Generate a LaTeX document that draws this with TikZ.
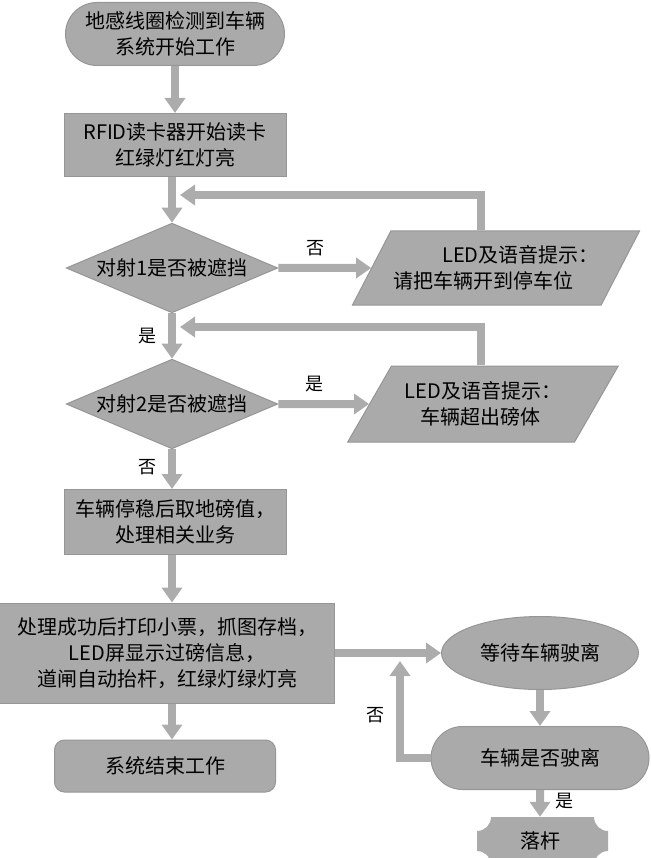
\documentclass[tikz,border=0pt]{standalone}
\usepackage{fontspec}
\setmainfont{Noto Sans CJK SC}
\usetikzlibrary{shapes.geometric,shapes.misc,arrows.meta}
\definecolor{boxgray}{RGB}{170,170,170}
\definecolor{edgegray}{RGB}{150,150,150}
\definecolor{linegray}{RGB}{172,172,172}
\tikzset{
  box/.style={draw=edgegray,fill=boxgray,line width=1pt,align=center,inner sep=0pt,
    font=\fontsize{20}{26}\selectfont},
  ask/.style={box,diamond,aspect=2.36,inner xsep=6pt,inner ysep=1pt},
  lbl/.style={font=\fontsize{18}{18}\selectfont},
  flow/.style={draw=linegray,line width=8pt,-{Triangle[width=20pt,length=15pt]}},
}
\begin{document}
\begin{tikzpicture}[x=1pt,y=-1pt]
  \useasboundingbox (0,0) rectangle (650,858);
  \node[box,rounded rectangle,minimum width=219pt,minimum height=63pt] (start) at (175,34)
    {地感线圈检测到车辆\\系统开始工作};
  \node[box,rectangle,minimum width=222pt,minimum height=63pt] (rfid) at (175,145)
    {RFID读卡器开始读卡\\红绿灯红灯亮};
  \node[ask] (d1) at (172,268) {对射1是否被遮挡};
  \node[box,trapezium,trapezium left angle=50,trapezium right angle=130,trapezium stretches=true,
    minimum width=288pt,minimum height=74pt,align=left] (p1) at (496,268)
    {\hspace*{49pt}LED及语音提示：\\请把车辆开到停车位};
  \node[ask] (d2) at (172,404) {对射2是否被遮挡};
  \node[box,trapezium,trapezium left angle=50,trapezium right angle=130,trapezium stretches=true,
    minimum width=271pt,minimum height=76pt,align=left] (p2) at (483,404)
    {LED及语音提示：\\\hspace*{16pt}车辆超出磅体};
  \node[box,rectangle,minimum width=222pt,minimum height=65pt] (b3) at (175,522)
    {车辆停稳后取地磅值，\\处理相关业务};
  \node[box,rectangle,minimum width=335pt,minimum height=100pt] (b4) at (167,653)
    {处理成功后打印小票，抓图存档，\\LED屏显示过磅信息，\\道闸自动抬杆，红绿灯绿灯亮};
  \node[box,ellipse,minimum width=197pt,minimum height=73pt] (wt) at (540,653) {等待车辆驶离};
  \node[box,rounded rectangle,minimum width=218pt,minimum height=63pt] (q) at (540,758) {车辆是否驶离};
  \node[box,rectangle,rounded corners=10pt,minimum width=221pt,minimum height=52pt] (b5) at (165,766)
    {系统结束工作};
  \fill[boxgray] (477,831) arc[start angle=90,end angle=0,radius=14] -- (594,817)
    arc[start angle=180,end angle=90,radius=14] -- (608,851)
    arc[start angle=270,end angle=180,radius=14] -- (491,865)
    arc[start angle=360,end angle=270,radius=14] -- cycle;
  \node[font=\fontsize{20}{26}\selectfont,minimum width=131pt,minimum height=48pt,inner sep=0pt] (lg) at (540,841) {落杆};
  \coordinate (fb1) at (180,195);
  \coordinate (fb2) at (180,327);
  \coordinate (nq) at (400,661);

  \draw[flow] (start) -- (rfid);
  \draw[flow] (rfid.south -| d1) -- (d1);
  \draw[flow] (d1) -- node[lbl,above=5pt,pos=0.4]{否} (p1);
  \draw[flow] ([xshift=-15pt]p1.north) |- (fb1);
  \draw[flow] (d1) -- node[lbl,left=8pt,pos=0.5]{是} (d2);
  \draw[flow] (d2) -- node[lbl,above=5pt,pos=0.4]{是} (p2);
  \draw[flow] ([xshift=-2pt]p2.north) |- (fb2);
  \draw[flow] (d2) -- node[lbl,left=8pt,pos=0.45]{否} (b3.north -| d2);
  \draw[flow] (b3.south -| d2) -- (b4.north -| d2);
  \draw[flow] (b4) -- (wt);
  \draw[flow] (wt) -- (q);
  \draw[flow] (q.west) -| node[lbl,left=8pt,pos=0.72]{否} (nq);
  \draw[flow] (b4.south -| d2) -- (b5.north -| d2);
  \draw[flow] (q) -- node[lbl,right=8pt,pos=0.4]{是} (lg);
\end{tikzpicture}
\end{document}
